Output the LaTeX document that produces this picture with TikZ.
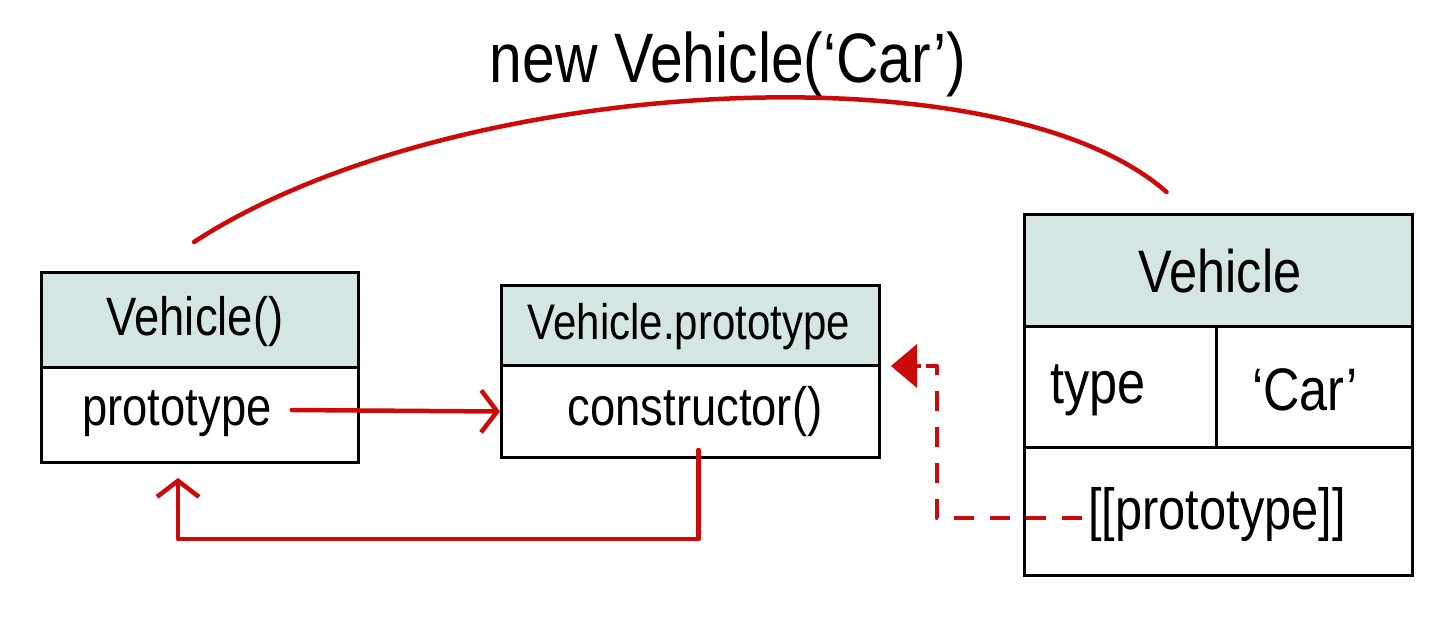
\documentclass[tikz,border=0pt]{standalone}
\usepackage{fontspec}
\setmainfont[FakeStretch=0.84]{Liberation Sans}
\usetikzlibrary{arrows.meta,calc}
\definecolor{hdr}{HTML}{D3E6E3}
\definecolor{rd}{HTML}{CC0A0A}
\begin{document}
\begin{tikzpicture}[x=1pt,y=-1pt,
  cell/.style={draw=black, line width=3pt, inner sep=0pt, anchor=north west},
  head/.style={cell, fill=hdr},
  lbl/.style={font=\fontsize{54}{60}\selectfont, inner sep=0pt},
  link/.style={draw=rd, line width=4.5pt, line cap=round, line join=round},
  barb/.style={-{Straight Barb[length=16pt,width=42pt,line width=4.5pt]}},
  tri/.style={-{Triangle[length=26pt,width=44pt,line width=0pt]}}]
\useasboundingbox (0,0) rectangle (1440,619);
% box 1
\node[head, minimum width=317pt, minimum height=95pt] (b1h) at (40,271) {};
\node[cell, minimum width=317pt, minimum height=95pt] (b1b) at (40,366) {};
\node[lbl] (t1h) at (195,322) {Vehicle()};
\node[lbl] (t1b) at (177,414) {prototype};
% box 2
\node[head, minimum width=378pt, minimum height=80pt] (b2h) at (500,284) {};
\node[cell, minimum width=378pt, minimum height=92pt] (b2b) at (500,364) {};
\node[lbl, font=\fontsize{50}{56}\selectfont] (t2h) at (689,327) {Vehicle.prototype};
\node[lbl] (t2b) at (695,412) {constructor()};
% box 3
\node[head, minimum width=388pt, minimum height=112pt] (b3h) at (1023,213) {};
\node[cell, minimum width=192pt, minimum height=121pt] (b3t) at (1023,325) {};
\node[cell, minimum width=196pt, minimum height=121pt] (b3v) at (1215,325) {};
\node[cell, minimum width=388pt, minimum height=128pt] (b3p) at (1023,446) {};
\node[lbl, font=\fontsize{60}{66}\selectfont] (t3h) at (1220,271) {Vehicle};
\node[lbl, font=\fontsize{60}{66}\selectfont] (t3t) at (1098,390) {type};
\node[lbl, font=\fontsize{60}{66}\selectfont] (t3v) at (1305,390) {‘Car’};
\node[lbl, font=\fontsize{58}{64}\selectfont] (t3p) at (1217,514) {[[prototype]]};
% title
\node[lbl, font=\fontsize{70}{76}\selectfont] (title) at (728,64) {new Vehicle(‘Car’)};
% connectors
\coordinate (a0) at ($(b1h.north)+(-6,-29)$);
\coordinate (a1) at ($(b3h.north)+(-52,-21)$);
\draw[link] (a0) .. controls (450,75) and (1000,45) .. (a1);
\draw[link, barb] ($(t1b.east)+(20,-4)$) -- (b2b.west);
\coordinate (ret) at ($(b1b.south)+(-22,14)$);
\draw[link, barb] ($(b2b.south)+(8,-9)$) |- ($(ret)+(0,61)$) -- (ret);
\coordinate (dk) at (937,366);
\coordinate (tip) at ($(b2b.north east)+(10,2)$);
\draw[link, dash pattern=on 20pt off 16pt, line cap=butt] ($(t3p.west)+(-6,4)$) -| (dk) -- ($(tip)+(22,0)$);
\draw[draw=rd, fill=rd, line width=4.5pt, tri] ($(tip)+(30,0)$) -- (tip);
\end{tikzpicture}
\end{document}
